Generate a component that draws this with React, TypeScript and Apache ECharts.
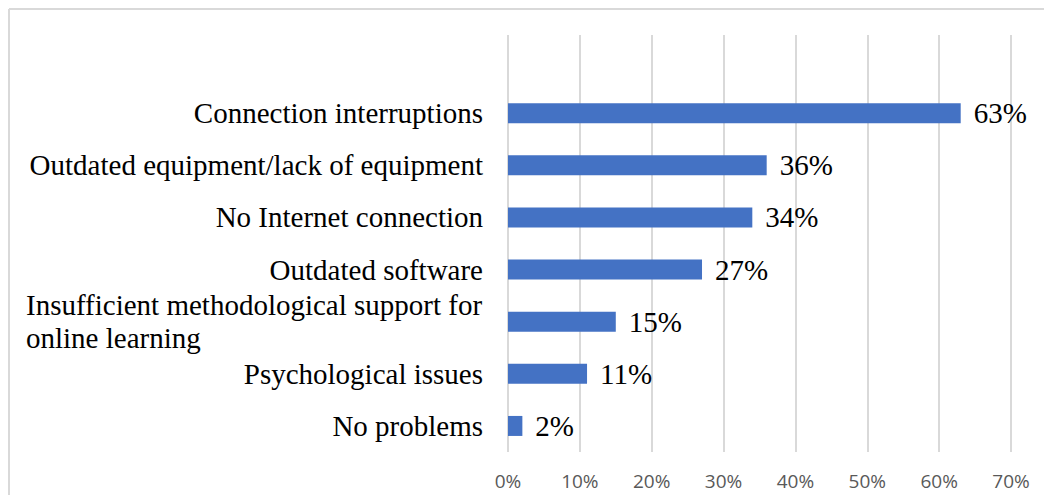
import React, { useEffect, useRef } from "react";
import * as echarts from "echarts";

// Problems reported with online learning (share of respondents, %)
const categories = [
  "",
  "Connection interruptions",
  "Outdated equipment/lack of equipment",
  "No Internet connection",
  "Outdated software",
  "Insufficient methodological support for\nonline learning",
  "Psychological issues",
  "No problems",
];
const values: (number | null)[] = [null, 63, 36, 34, 27, 15, 11, 2];
const tickValues = [0, 10, 20, 30, 40, 50, 60, 70];

const W = 1044;
const H = 495;
const SERIF = "'Liberation Serif', 'Times New Roman', serif";
const LABEL_SIZE = 29;

// Width of the widest line of a wrapped label, so its lines can share a left edge.
function measureWidest(text: string): number {
  const ctx = document.createElement("canvas").getContext("2d");
  if (!ctx) return 450;
  ctx.font = `${LABEL_SIZE}px ${SERIF}`;
  return Math.ceil(
    Math.max(...text.split("\n").map((l) => ctx.measureText(l).width))
  );
}

export default function App() {
  const ref = useRef<HTMLDivElement>(null);

  useEffect(() => {
    if (!ref.current) return;
    const chart = echarts.init(ref.current, undefined, { renderer: "svg" });
    const wrapped = categories.find((c) => c.includes("\n")) || "";
    const wrappedWidth = measureWidest(wrapped);

    chart.setOption({
      animation: false,
      backgroundColor: "#ffffff",
      grid: { left: 508, right: 33, top: 35, bottom: 43, containLabel: false },
      xAxis: {
        type: "value",
        min: 0,
        max: 70,
        interval: 10,
        axisLine: { show: false },
        axisTick: { show: false },
        splitLine: { show: true, lineStyle: { color: "#d9d9d9", width: 2 } },
        axisLabel: {
          margin: 19,
          color: "#595959",
          fontSize: 19,
          fontFamily: "'Open Sans', 'Liberation Sans', sans-serif",
          formatter: (v: number) => (tickValues.includes(v) ? `${v}%` : ""),
        },
      },
      yAxis: {
        type: "category",
        inverse: true,
        data: categories,
        axisLine: { show: false },
        axisTick: { show: false },
        axisLabel: {
          margin: 25,
          color: "#000000",
          fontSize: LABEL_SIZE,
          fontFamily: SERIF,
          formatter: (v: string) => {
            if (v.includes("\n")) {
              return v
                .split("\n")
                .map((line) => `{m|${line}}`)
                .join("\n");
            }
            return v;
          },
          rich: {
            m: {
              fontSize: LABEL_SIZE,
              fontFamily: SERIF,
              color: "#000000",
              width: wrappedWidth,
              align: "left",
              lineHeight: 33,
            },
          },
        },
      },
      series: [
        {
          type: "bar",
          data: values,
          barWidth: 20,
          itemStyle: { color: "#4472c4" },
          label: {
            show: true,
            position: "right",
            distance: 13,
            color: "#000000",
            fontSize: LABEL_SIZE,
            fontFamily: SERIF,
            formatter: (p: any) => (p.value == null ? "" : `${p.value}%`),
          },
        },
      ],
      graphic: [
        {
          type: "line",
          shape: { x1: 9, y1: 9, x2: W, y2: 9 },
          style: { stroke: "#d9d9d9", lineWidth: 2 },
          silent: true,
        },
        {
          type: "line",
          shape: { x1: 9, y1: 9, x2: 9, y2: H },
          style: { stroke: "#d9d9d9", lineWidth: 2 },
          silent: true,
        },
      ],
    });

    return () => chart.dispose();
  }, []);

  return (
    <div
      ref={ref}
      style={{ position: "absolute", left: 0, top: 0, width: W, height: H }}
    />
  );
}
